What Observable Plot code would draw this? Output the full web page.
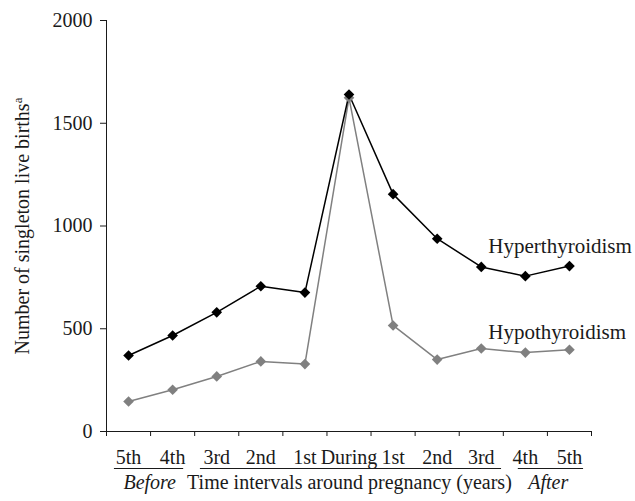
<!DOCTYPE html>
<html>
<head>
<meta charset="utf-8">
<script src="https://cdn.jsdelivr.net/npm/d3@7"></script>
<script src="https://cdn.jsdelivr.net/npm/@observablehq/plot@0.6"></script>
<style>
  html, body { margin: 0; padding: 0; background: #fff; }
  #chart svg { font-family: "Liberation Serif", "Times New Roman", serif; }
</style>
</head>
<body>
<div id="chart"></div>
<script>
const categories = ["5th", "4th", "3rd", "2nd", "1st", "During", "1st", "2nd", "3rd", "4th", "5th"];
const hyperthyroidism = [370, 467, 580, 707, 676, 1640, 1155, 938, 801, 756, 805];
const hypothyroidism = [146, 203, 268, 341, 328, 1624, 516, 350, 404, 384, 398];
const yTicks = [0, 500, 1000, 1500, 2000];
const groups = [
  {x1: 0.18, x2: 1.75},
  {x1: 2.13, x2: 8.96},
  {x1: 9.34, x2: 10.82}
];
const groupLabels = [
  {text: "Before", x: 0.98, italic: true},
  {text: "Time intervals around pregnancy (years)", x: 5.51, italic: false},
  {text: "After", x: 10.02, italic: true}
];
const seriesLabels = [
  {text: "Hyperthyroidism", x: 8.66, y: 900},
  {text: "Hypothyroidism", x: 8.66, y: 481}
];

const rows = [];
categories.forEach((c, i) => {
  rows.push({i: i + 0.5, value: hypothyroidism[i], series: "Hypothyroidism"});
});
categories.forEach((c, i) => {
  rows.push({i: i + 0.5, value: hyperthyroidism[i], series: "Hyperthyroidism"});
});
const colors = {Hyperthyroidism: "#000000", Hypothyroidism: "#808080"};

const plot = Plot.plot({
  width: 635,
  height: 501,
  marginLeft: 106,
  marginRight: 44,
  marginTop: 20,
  marginBottom: 70,
  style: {fontFamily: "Liberation Serif, Times New Roman, serif", fontSize: "20px", color: "#1a1a1a", background: "#fff"},
  x: {domain: [0, 11], axis: null},
  y: {domain: [0, 2000], axis: null},
  marks: [
    Plot.axisY({ticks: yTicks, tickSize: 6, tickPadding: 8, label: null, fontSize: 20, tickFormat: d => String(d)}),
    Plot.axisX({ticks: d3.range(12), tickSize: 5, tickFormat: () => "", label: null}),
    Plot.ruleX([0], {stroke: "#1a1a1a"}),
    Plot.ruleY([0], {stroke: "#1a1a1a"}),
    Plot.line(rows, {x: "i", y: "value", z: "series", stroke: d => colors[d.series], strokeWidth: 1.5}),
    Plot.dot(rows, {x: "i", y: "value", symbol: "diamond2", r: 4.8, fill: d => colors[d.series], stroke: "none"}),
    Plot.text(categories, {x: (d, i) => i + 0.5, y: () => 0, text: d => d, dy: 26, fontSize: 20}),
    Plot.ruleY(groups, {x1: "x1", x2: "x2", y: () => 0, dy: 37, stroke: "#1a1a1a", strokeWidth: 1}),
    Plot.text(groupLabels.filter(d => d.italic), {x: "x", y: () => 0, text: "text", dy: 51, fontSize: 20, fontStyle: "italic"}),
    Plot.text(groupLabels.filter(d => !d.italic), {x: "x", y: () => 0, text: "text", dy: 51, fontSize: 20}),
    Plot.text(seriesLabels, {x: "x", y: "y", text: "text", textAnchor: "start", fontSize: 21}),
    Plot.text(["Number of singleton live births"], {frameAnchor: "left", textAnchor: "middle", text: d => d, rotate: -90, dx: -84, fontSize: 20})
  ]
});
document.getElementById("chart").appendChild(plot);

// add superscript "a" to the y-axis label
d3.select(plot).selectAll("text").each(function() {
  if (this.textContent === "Number of singleton live births") {
    const t = d3.select(this);
    t.text(null);
    t.append("tspan").text("Number of singleton live births");
    t.append("tspan").attr("baseline-shift", "super").attr("font-size", 13).text("a");
  }
});
</script>
</body>
</html>
